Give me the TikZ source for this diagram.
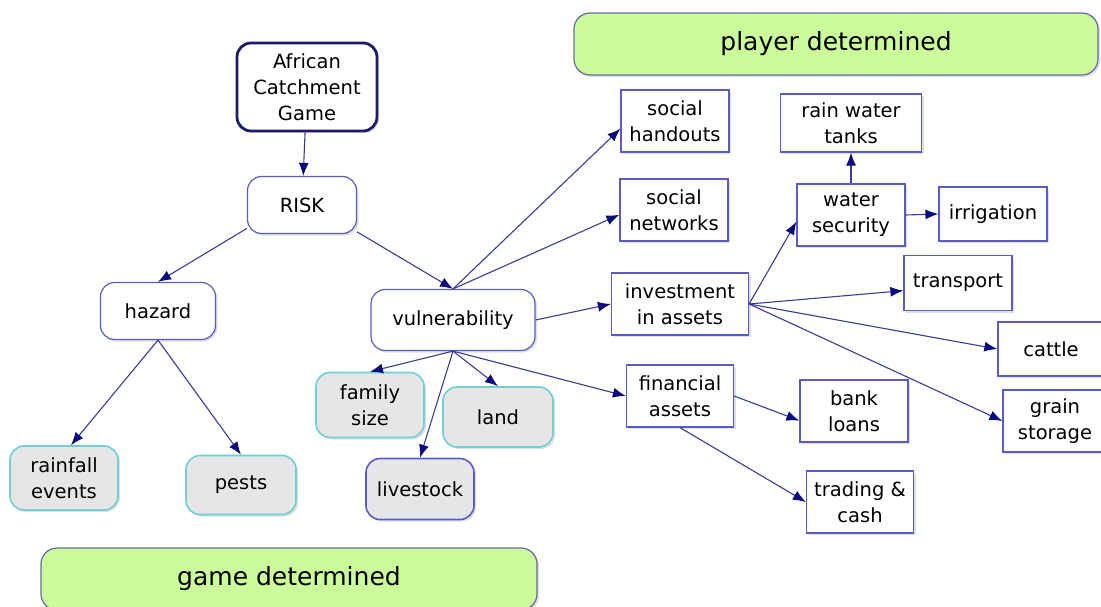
\documentclass[tikz,border=0pt]{standalone}
\usepackage{fontspec}
\setmainfont{DejaVu Sans}
\usetikzlibrary{arrows.meta,shadows}
\definecolor{linkblue}{HTML}{3A3A9A}
\definecolor{tipnavy}{HTML}{0A0A80}
\definecolor{boxblue}{HTML}{5A5AC8}
\definecolor{navyrim}{HTML}{1C1C6E}
\definecolor{cyanrim}{HTML}{70CFD2}
\definecolor{greyfill}{HTML}{E6E6E8}
\definecolor{limefill}{HTML}{CCFB9C}
\definecolor{bandrim}{HTML}{6A6AA8}

\begin{document}
\begin{tikzpicture}[x=1pt,y=-1pt,
  font=\fontsize{19.5}{26}\selectfont,
  every node/.style={align=center,inner sep=4pt},
  boxshadow/.style={drop shadow={shadow xshift=2pt,shadow yshift=-2pt,opacity=0.25}},
  concept/.style={draw=boxblue,line width=1.2pt,fill=white,rounded corners=14pt,minimum height=58pt,boxshadow},
  given/.style={draw=cyanrim,line width=1.6pt,fill=greyfill,rounded corners=14pt,minimum height=60pt,boxshadow},
  choice/.style={draw=boxblue,line width=1.2pt,fill=white,minimum height=62pt,boxshadow},
  band/.style={draw=bandrim,line width=1.2pt,fill=limefill,rounded corners=16pt,font=\fontsize{25}{30}\selectfont,boxshadow},
  link/.style={draw=linkblue,line width=1.1pt,-{Latex[length=13pt,width=10pt,color=tipnavy]}}
]
\useasboundingbox (0,0) rectangle (1101,606);

\node[band,minimum width=524pt,minimum height=62pt] (player) at (836,44) {player determined};
\node[band,minimum width=496pt,minimum height=62pt] (game) at (289,579) {game determined};

\node[concept,draw=navyrim,line width=2.8pt,minimum width=140pt,minimum height=88pt] (acg) at (307,87) {African\\Catchment\\Game};
\node[concept,minimum width=109pt,minimum height=57pt] (risk) at (302,205) {RISK};
\node[concept,minimum width=115pt,minimum height=57pt] (hazard) at (158,311) {hazard};
\node[concept,minimum width=164pt,minimum height=61pt] (vuln) at (453,320) {vulnerability};

\node[given,minimum width=108pt,minimum height=64pt] (rain) at (64,478) {rainfall\\events};
\node[given,minimum width=110pt,minimum height=59pt] (pests) at (241,485) {pests};
\node[given,minimum width=108pt,minimum height=65pt] (family) at (370,405) {family\\size};
\node[given,minimum width=110pt,minimum height=60pt] (land) at (498,417) {land};
\node[given,draw=boxblue,minimum width=108pt,minimum height=61pt] (livestock) at (420,489) {livestock};

\node[choice,minimum width=108pt] (handouts) at (675,121) {social\\handouts};
\node[choice,minimum width=108pt] (networks) at (674,210) {social\\networks};
\node[choice,minimum width=137pt] (invest) at (680,304) {investment\\in assets};
\node[choice,minimum width=107pt] (financial) at (680,396) {financial\\assets};
\node[choice,minimum width=141pt,minimum height=58pt] (tanks) at (851,123) {rain water\\tanks};
\node[choice,minimum width=108pt] (watersec) at (851,215) {water\\security};
\node[choice,minimum width=108pt,minimum height=54pt] (irrig) at (993,214) {irrigation};
\node[choice,minimum width=108pt,minimum height=55pt] (transport) at (958,283) {transport};
\node[choice,minimum width=106pt,minimum height=54pt] (cattle) at (1051,349) {cattle};
\node[choice,minimum width=104pt] (grain) at (1055,421) {grain\\storage};
\node[choice,minimum width=108pt] (bank) at (854,411) {bank\\loans};
\node[choice,minimum width=107pt] (trading) at (860,502) {trading \&\\cash};

\draw[link] (acg) -- (risk);
\draw[link] (risk.203) -- (hazard.north);
\draw[link] (risk.-26) -- (vuln.north);
\draw[link] (hazard.south) -- (rain.78);
\draw[link] (hazard.south) -- (pests.north);
\draw[link] (vuln.south) -- (family.north);
\draw[link] (vuln.south) -- (land.north);
\draw[link] (vuln.south) -- (livestock.north);
\draw[link] (vuln.south) -- (financial.west);
\draw[link] (vuln.east) -- (invest.west);
\draw[link] (vuln.north) -- (handouts.188);
\draw[link] (vuln.north) -- (networks.185);
\draw[link] (invest.east) -- (watersec.187);
\draw[link] (invest.east) -- (transport.188);
\draw[link] (invest.east) -- (cattle.west);
\draw[link] (invest.east) -- (grain.west);
\draw[link] (watersec.north) -- (tanks.south);
\draw[link] (watersec.east) -- (irrig.west);
\draw[link] (financial.east) -- (bank.190);
\draw[link] (financial.south) -- (trading.west);
\end{tikzpicture}
\end{document}
